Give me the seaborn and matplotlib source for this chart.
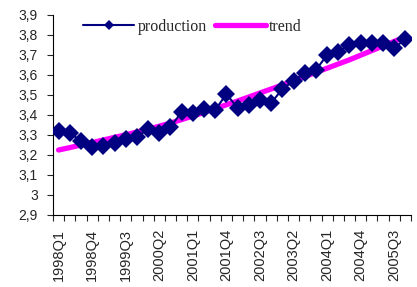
import numpy as np
import pandas as pd
import matplotlib
matplotlib.use("Agg")
import matplotlib.pyplot as plt
import seaborn as sns
from matplotlib.ticker import FuncFormatter, FixedLocator, MultipleLocator

# ==============================================================================
# Datos
# ==============================================================================
trimestres = [f"{anio}Q{q}" for anio in range(1998, 2006) for q in range(1, 5)]

produccion = [3.32, 3.31, 3.27, 3.24, 3.245, 3.26, 3.28, 3.29, 3.33, 3.31,
              3.34, 3.415, 3.41, 3.43, 3.425, 3.505, 3.435, 3.45, 3.475, 3.46,
              3.53, 3.57, 3.61, 3.625, 3.70, 3.715, 3.75, 3.76, 3.76, 3.76,
              3.735, 3.78]

tendencia = [3.225, 3.237, 3.250, 3.262, 3.275, 3.288, 3.301, 3.315, 3.329, 3.344,
             3.360, 3.377, 3.395, 3.413, 3.432, 3.451, 3.470, 3.490, 3.510, 3.530,
             3.550, 3.571, 3.592, 3.613, 3.634, 3.655, 3.676, 3.699, 3.722, 3.745,
             3.768, 3.790]

df = pd.DataFrame({"pos": np.arange(len(trimestres)),
                   "trimestre": trimestres,
                   "production": produccion,
                   "trend": tendencia})

# ==============================================================================
# Gráfico
# ==============================================================================
sns.set_style("ticks")
plt.rcParams["font.family"] = ["Liberation Sans", "DejaVu Sans"]

fig = plt.figure(figsize=(4.17, 2.87), dpi=100)
ax = fig.add_axes([53 / 417, 1 - 215 / 287, (411 - 53) / 417, 200 / 287])

sns.lineplot(data=df, x="pos", y="trend", ax=ax, color="#FF00FF",
             linewidth=3.8, label="trend", zorder=2)
sns.lineplot(data=df, x="pos", y="production", ax=ax, color="#000080",
             linewidth=1.5, marker="D", markersize=9, markeredgewidth=0,
             label="production", zorder=3)

ax.set_xlim(-0.5, len(trimestres) - 0.5)
ax.set_ylim(2.9, 3.9)
ax.yaxis.set_major_locator(MultipleLocator(0.1))
ax.yaxis.set_major_formatter(FuncFormatter(lambda v, p: f"{v:.1f}".replace(".", ",").replace(",0", "")))

# etiquetas cada 3 trimestres, marcas entre categorías
ax.xaxis.set_major_locator(FixedLocator(df["pos"][::3]))
ax.set_xticklabels(df["trimestre"][::3], rotation=90)
ax.xaxis.set_minor_locator(FixedLocator(np.arange(-0.5, len(trimestres), 1)))
ax.tick_params(axis="x", which="major", length=0, pad=10, labelsize=10.5)
ax.tick_params(axis="x", which="minor", length=4, width=0.8, direction="out")
ax.tick_params(axis="y", length=4, width=0.8, labelsize=10, pad=7)

ax.set_xlabel("")
ax.set_ylabel("")
for lado in ["top", "right"]:
    ax.spines[lado].set_visible(False)
for lado in ["left", "bottom"]:
    ax.spines[lado].set_linewidth(0.8)
    ax.spines[lado].set_color("black")

handles, labels = ax.get_legend_handles_labels()
ax.legend(handles[::-1], labels[::-1], ncol=2, frameon=False,
          loc="upper left", bbox_to_anchor=(83 / 417, 1 - 19 / 287),
          bbox_transform=fig.transFigure, borderpad=0, borderaxespad=0,
          handlelength=3.2, handletextpad=0.2, columnspacing=0.5, markerscale=0.6,
          prop={"family": "Liberation Serif", "size": 11.5})

fig.savefig("out.png", dpi=100)
